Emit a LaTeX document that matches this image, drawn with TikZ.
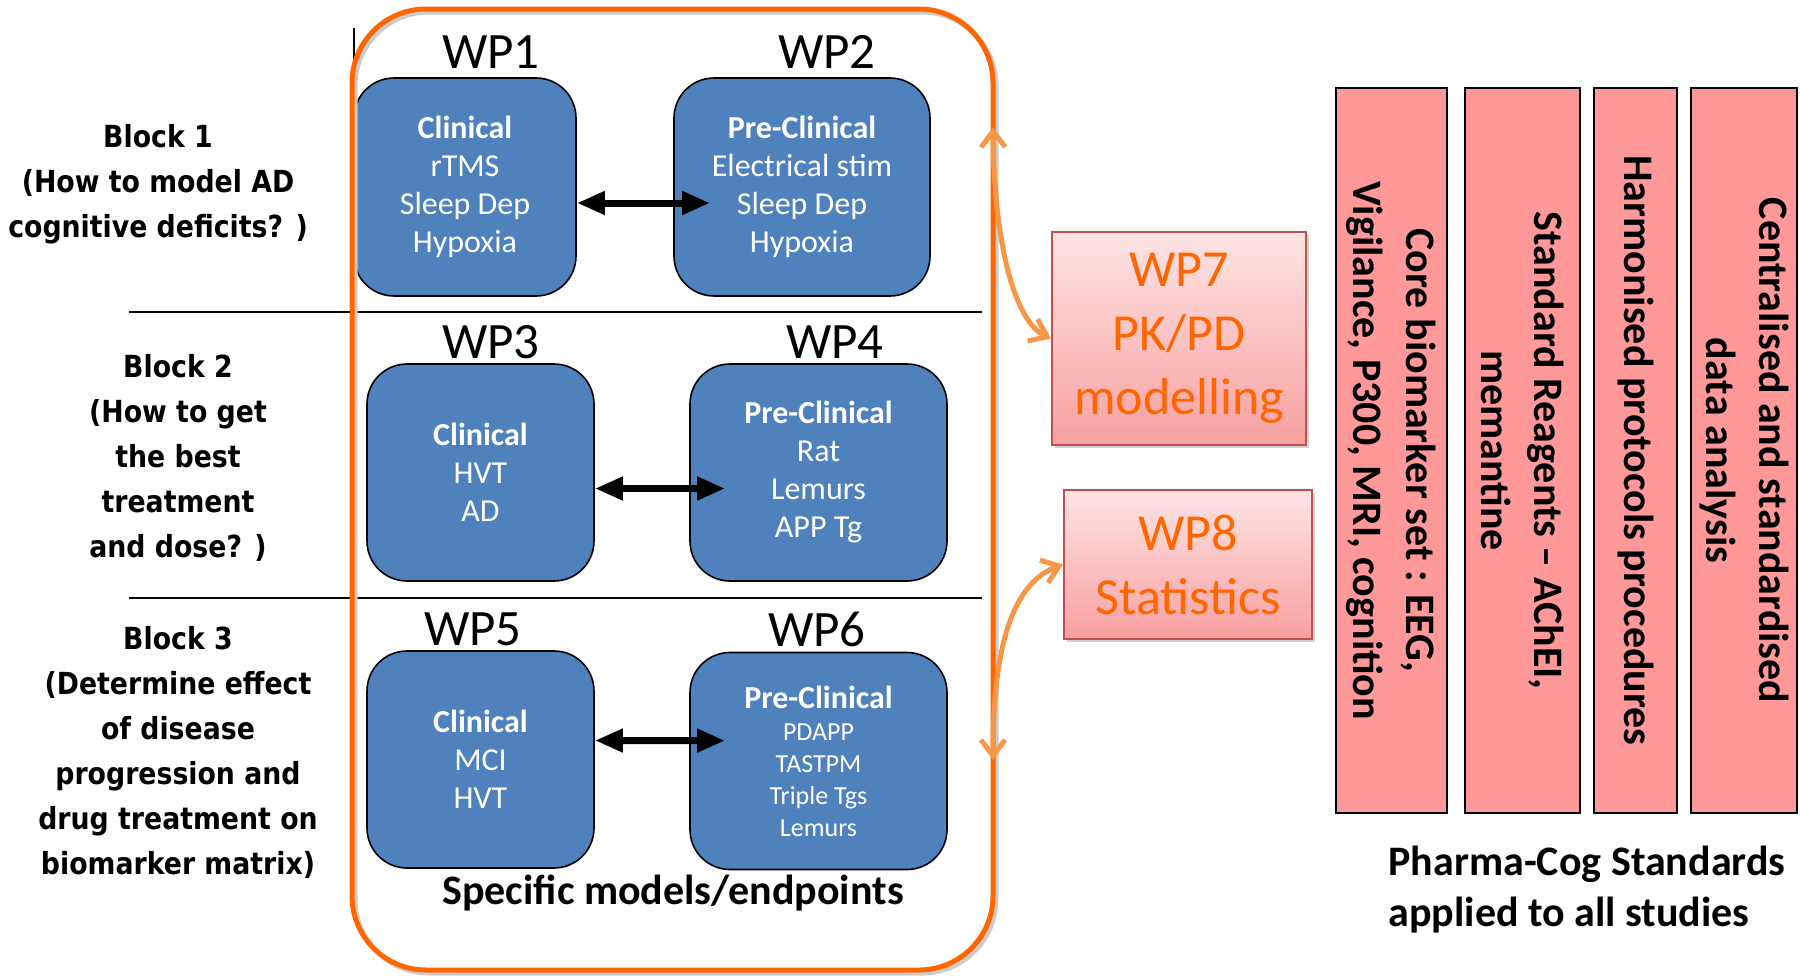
\documentclass[tikz,border=0pt]{standalone}
\usepackage{fontspec}
\setmainfont{Carlito}
\newfontfamily\blockfont[FakeStretch=0.88]{DejaVu Sans}
\usetikzlibrary{arrows.meta, shadows}

\definecolor{wpblue}{RGB}{79,129,189}
\definecolor{frameorange}{RGB}{255,102,0}
\definecolor{linkorange}{RGB}{247,150,70}
\definecolor{stdpink}{RGB}{255,153,153}
\definecolor{modtop}{RGB}{253,228,228}
\definecolor{modbot}{RGB}{249,160,160}
\definecolor{modborder}{RGB}{192,80,77}

\tikzset{
  sepline/.style={line width=0.8pt},
  wpbox/.style={draw=black, line width=0.8pt, fill=wpblue, rounded corners=20pt,
    text=white, align=center, font=\fontsize{16}{19}\selectfont},
  wplabel/.style={font=\fontsize{25.5}{30}\selectfont, inner sep=0pt},
  blocktext/.style={font=\blockfont\bfseries\fontsize{15.2}{22.5}\selectfont, align=center},
  modbox/.style={draw=modborder, line width=1pt, top color=modtop, bottom color=modbot,
    text=frameorange, align=center, font=\fontsize{26}{32}\selectfont,
    drop shadow={shadow xshift=1.5pt, shadow yshift=-1.5pt, fill=black!35, opacity=0.5}},
  stdbox/.style={draw=black, line width=1pt, fill=stdpink, rotate=-90, align=center,
    font=\bfseries\fontsize{21}{26.5}\selectfont},
  biarrow/.style={{Triangle[length=14pt,width=11pt]}-{Triangle[length=14pt,width=11pt]}, line width=3.5pt},
  link/.style={linkorange, line width=2.5pt,
    {Straight Barb[length=8pt,width=12pt]}-{Straight Barb[length=8pt,width=12pt]}},
  frameshadow/.style={preaction={draw=black!20, transform canvas={shift={(1.5pt,-1.5pt)}}}}
}

\begin{document}
\begin{tikzpicture}[x=0.5pt, y=-0.5pt]
  \useasboundingbox (0,0) rectangle (1800,976);

  % rules between the three blocks
  \draw[sepline] (354,28) -- (354,90);
  \draw[sepline] (129,312) -- (982,312);
  \draw[sepline] (129,598) -- (982,598);

  % block questions
  \node[blocktext] (block1) at (158,184) {Block 1\\(How to model AD\\cognitive deficits? )};
  \node[blocktext] (block2) at (178,458) {Block 2\\(How to get\\the best\\treatment\\and dose? )};
  \node[blocktext] (block3) at (178,752) {Block 3\\(Determine effect\\of disease\\progression and\\drug treatment on\\biomarker matrix)};

  % work packages
  \node[wpbox, minimum width=111pt, minimum height=109pt] (wp1) at (465,187)
    {\textbf{Clinical}\\rTMS\\Sleep Dep\\Hypoxia};
  \node[wpbox, minimum width=128pt, minimum height=109pt] (wp2) at (802,187)
    {\textbf{Pre-Clinical}\\Electrical stim\\Sleep Dep\\Hypoxia};
  \node[wpbox, minimum width=113.5pt, minimum height=108.5pt] (wp3) at (480.5,472.5)
    {\textbf{Clinical}\\HVT\\AD};
  \node[wpbox, minimum width=128.5pt, minimum height=108.5pt] (wp4) at (818.5,472.5)
    {\textbf{Pre-Clinical}\\Rat\\Lemurs\\APP Tg};
  \node[wpbox, minimum width=113.5pt, minimum height=108.5pt] (wp5) at (480.5,759.5)
    {\textbf{Clinical}\\MCI\\HVT};
  \node[wpbox, minimum width=128.5pt, minimum height=108.5pt,
    font=\fontsize{13}{16}\selectfont] (wp6) at (818.5,761)
    {{\fontsize{16}{19}\selectfont\bfseries Pre-Clinical}\\PDAPP\\TASTPM\\Triple Tgs\\Lemurs};

  \node[wplabel] (wp1lbl) at (491,52) {WP1};
  \node[wplabel] (wp2lbl) at (827,52) {WP2};
  \node[wplabel] (wp3lbl) at (491,342) {WP3};
  \node[wplabel] (wp4lbl) at (835,342) {WP4};
  \node[wplabel] (wp5lbl) at (473,629) {WP5};
  \node[wplabel] (wp6lbl) at (817,629) {WP6};

  \draw[biarrow] ([yshift=-8pt]wp1.east) -- ([xshift=18.5pt,yshift=-8pt]wp2.west);
  \draw[biarrow] ([yshift=-8pt]wp3.east) -- ([xshift=18pt,yshift=-8pt]wp4.west);
  \draw[biarrow] ([yshift=9.5pt]wp5.east) -- ([xshift=18pt,yshift=10.2pt]wp6.west);

  \node[font=\bfseries\fontsize{21}{25}\selectfont] (specific) at (673,893) {Specific models/endpoints};

  % orange frame round the work packages
  \node[draw=frameorange, line width=2.5pt, rounded corners=37pt, frameshadow,
    minimum width=320.5pt, minimum height=480.5pt] (frame) at (672.5,489.5) {};

  % modelling and statistics
  \node[modbox, minimum width=127pt, minimum height=106.5pt] (wp7) at (1179,338.5)
    {WP7\\PK/PD\\modelling};
  \node[modbox, minimum width=124pt, minimum height=74.5pt] (wp8) at (1188,564.5)
    {WP8\\Statistics};

  \coordinate (up) at (993,127);
  \coordinate (down) at (993,760);
  \draw[link] (up) .. controls (994,245) and (1015,322) .. (wp7.west);
  \draw[link] (down) .. controls (993,640) and (1015,582) .. (wp8.west);

  % standards
  \node[stdbox, minimum width=362.5pt, minimum height=55.5pt] (std1) at (1391.5,450.5)
    {Core biomarker set : EEG,\\Vigilance, P300, MRI, cognition};
  \node[stdbox, minimum width=362.5pt, minimum height=57.5pt] (std2) at (1522.5,450.5)
    {Standard Reagents -- AChEI,\\memantine};
  \node[stdbox, minimum width=362.5pt, minimum height=41.5pt] (std3) at (1635.5,450.5)
    {Harmonised protocols procedures};
  \node[stdbox, minimum width=362.5pt, minimum height=53pt] (std4) at (1744,450.5)
    {Centralised and standardised\\data analysis};

  \node[align=left, font=\bfseries\fontsize{21}{25.5}\selectfont] (pharma) at (1587,890)
    {Pharma-Cog Standards\\applied to all studies};
\end{tikzpicture}
\end{document}
